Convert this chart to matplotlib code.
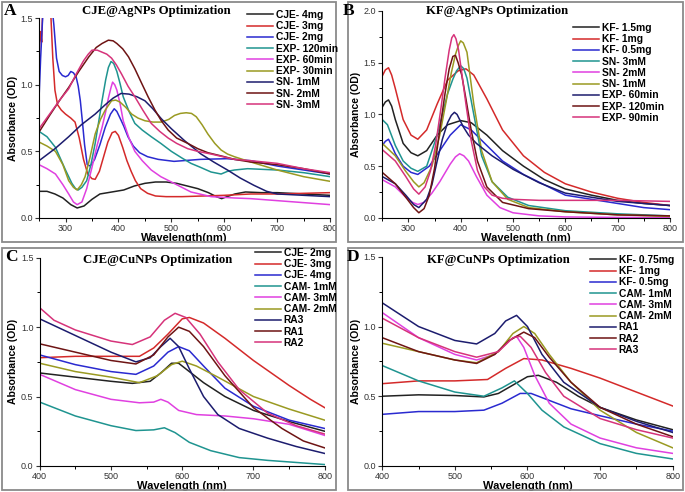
import matplotlib
matplotlib.use("Agg")
import matplotlib.pyplot as plt
from matplotlib.patches import Rectangle
from matplotlib.ticker import MultipleLocator, FormatStrFormatter

plt.rcParams["font.family"] = ["Liberation Sans", "DejaVu Sans"]

# Origin-like palette, same order in every panel
colors = ["#222222", "#d42a2a", "#2a2ad0", "#1f9490", "#e040e0",
          "#9a9a22", "#1c1c6e", "#6e1414", "#d6337a"]

# -----------------------------
# Panel A: CJE@AgNPs
# -----------------------------
a_labels = ["CJE- 4mg", "CJE- 3mg", "CJE- 2mg", "EXP- 120min", "EXP- 60min",
            "EXP- 30min", "SN- 1mM", "SN- 2mM", "SN- 3mM"]
a_x = [
    [250, 265, 280, 295, 310, 322, 335, 350, 365, 380, 395, 410, 430, 450, 470, 490, 510, 530, 550, 570, 585, 595, 605, 620, 640, 670, 700, 750, 800],
    [250, 251, 253, 255, 257, 260, 266, 272, 276, 280, 285, 292, 300, 310, 318, 326, 334, 342, 350, 356, 364, 372, 380, 388, 394, 400, 408, 416, 424, 432, 442, 455, 470, 490, 520, 560, 600, 650, 700, 750, 800],
    [250, 253, 258, 266, 274, 278, 283, 288, 294, 300, 305, 310, 315, 320, 324, 328, 332, 336, 341, 347, 355, 365, 375, 385, 392, 397, 403, 410, 418, 428, 440, 455, 475, 505, 555, 605, 650, 700, 750, 800],
    [250, 265, 281, 300, 312, 319, 324, 331, 340, 348, 356, 363, 369, 376, 381, 386, 391, 397, 403, 409, 420, 431, 445, 462, 480, 500, 520, 537, 555, 575, 594, 606, 619, 644, 700, 750, 800],
    [250, 265, 281, 295, 306, 315, 322, 331, 340, 350, 360, 369, 376, 381, 386, 389, 393, 397, 403, 409, 420, 431, 445, 462, 480, 500, 537, 575, 619, 650, 700, 750, 800],
    [250, 265, 281, 295, 306, 315, 322, 330, 337, 346, 356, 366, 375, 387, 395, 403, 414, 425, 437, 450, 465, 481, 495, 506, 517, 528, 538, 547, 558, 569, 582, 594, 606, 619, 650, 700, 750, 800],
    [250, 280, 306, 330, 356, 375, 390, 405, 420, 435, 450, 465, 481, 500, 525, 556, 580, 606, 630, 656, 680, 700, 750, 800],
    [250, 270, 290, 306, 325, 344, 358, 369, 381, 390, 397, 408, 419, 431, 444, 456, 469, 481, 494, 510, 531, 550, 569, 600, 619, 650, 700, 750, 800],
    [250, 270, 290, 306, 320, 334, 343, 350, 360, 369, 378, 387, 396, 406, 418, 431, 446, 462, 478, 494, 510, 531, 550, 575, 619, 650, 700, 750, 800],
]
a_y = [
    [0.20, 0.20, 0.18, 0.15, 0.10, 0.075, 0.09, 0.14, 0.18, 0.19, 0.20, 0.21, 0.24, 0.26, 0.27, 0.27, 0.26, 0.24, 0.22, 0.19, 0.16, 0.145, 0.16, 0.18, 0.195, 0.19, 0.19, 0.18, 0.17],
    [1.10, 1.30, 1.40, 1.32, 1.60, 1.70, 1.70, 1.55, 1.20, 0.96, 0.85, 0.81, 0.78, 0.75, 0.72, 0.60, 0.44, 0.33, 0.295, 0.29, 0.35, 0.46, 0.57, 0.64, 0.65, 0.62, 0.53, 0.43, 0.35, 0.28, 0.22, 0.185, 0.165, 0.16, 0.16, 0.165, 0.17, 0.18, 0.18, 0.185, 0.19],
    [0.90, 1.20, 1.60, 1.70, 1.60, 1.45, 1.20, 1.10, 1.07, 1.06, 1.07, 1.10, 1.09, 1.06, 0.99, 0.88, 0.72, 0.55, 0.40, 0.39, 0.44, 0.55, 0.68, 0.78, 0.82, 0.80, 0.75, 0.69, 0.61, 0.54, 0.49, 0.46, 0.44, 0.425, 0.44, 0.445, 0.43, 0.39, 0.36, 0.33],
    [0.65, 0.61, 0.53, 0.36, 0.26, 0.22, 0.21, 0.23, 0.28, 0.40, 0.56, 0.73, 0.88, 1.04, 1.13, 1.175, 1.16, 1.10, 1.01, 0.91, 0.80, 0.71, 0.66, 0.61, 0.56, 0.50, 0.45, 0.41, 0.38, 0.345, 0.33, 0.35, 0.36, 0.37, 0.36, 0.34, 0.31],
    [0.40, 0.37, 0.33, 0.25, 0.18, 0.12, 0.10, 0.12, 0.22, 0.38, 0.55, 0.68, 0.80, 0.90, 0.98, 1.02, 1.00, 0.96, 0.86, 0.73, 0.60, 0.50, 0.43, 0.36, 0.31, 0.27, 0.195, 0.16, 0.15, 0.145, 0.13, 0.115, 0.10],
    [0.57, 0.54, 0.50, 0.40, 0.28, 0.23, 0.21, 0.25, 0.31, 0.45, 0.63, 0.74, 0.81, 0.88, 0.885, 0.87, 0.83, 0.78, 0.75, 0.73, 0.72, 0.72, 0.74, 0.77, 0.785, 0.79, 0.785, 0.76, 0.70, 0.63, 0.56, 0.51, 0.48, 0.46, 0.42, 0.36, 0.31, 0.275],
    [0.43, 0.52, 0.61, 0.70, 0.78, 0.85, 0.90, 0.935, 0.93, 0.91, 0.88, 0.82, 0.745, 0.67, 0.58, 0.48, 0.42, 0.36, 0.30, 0.245, 0.20, 0.18, 0.17, 0.16],
    [0.645, 0.77, 0.89, 0.98, 1.10, 1.21, 1.28, 1.31, 1.335, 1.33, 1.31, 1.27, 1.21, 1.12, 1.01, 0.91, 0.81, 0.73, 0.66, 0.60, 0.56, 0.52, 0.49, 0.46, 0.44, 0.42, 0.40, 0.37, 0.33],
    [0.67, 0.78, 0.89, 0.97, 1.08, 1.18, 1.23, 1.26, 1.26, 1.245, 1.23, 1.20, 1.15, 1.08, 0.99, 0.91, 0.81, 0.71, 0.65, 0.60, 0.56, 0.52, 0.50, 0.48, 0.44, 0.43, 0.41, 0.37, 0.34],
]

# -----------------------------
# Panel B: KF@AgNPs
# -----------------------------
b_labels = ["KF- 1.5mg", "KF- 1mg", "KF- 0.5mg", "SN- 3mM", "SN- 2mM",
            "SN- 1mM", "EXP- 60min", "EXP- 120min", "EXP- 90min"]
b_x = [
    [250, 256, 262, 268, 275, 290, 305, 318, 335, 355, 375, 400, 420, 450, 480, 520, 560, 600, 650, 700, 750, 800],
    [250, 256, 262, 268, 275, 290, 305, 318, 335, 355, 375, 395, 410, 425, 450, 480, 520, 560, 600, 650, 700, 750, 800],
    [250, 256, 262, 268, 275, 290, 305, 318, 340, 360, 380, 400, 420, 450, 480, 520, 560, 600, 650, 700, 750, 800],
    [250, 260, 275, 290, 305, 318, 335, 355, 375, 385, 392, 400, 406, 412, 425, 440, 460, 490, 530, 600, 700, 800],
    [250, 275, 295, 308, 318, 330, 345, 360, 380, 390, 398, 406, 415, 430, 450, 475, 500, 550, 600, 700, 800],
    [250, 275, 295, 310, 320, 330, 345, 360, 372, 382, 390, 396, 400, 405, 412, 425, 440, 460, 490, 530, 600, 700, 800],
    [250, 275, 295, 310, 320, 335, 345, 355, 365, 375, 382, 388, 393, 398, 405, 415, 430, 460, 500, 550, 600, 650, 700, 750, 800],
    [250, 275, 295, 310, 320, 330, 340, 350, 360, 370, 378, 385, 390, 395, 402, 410, 420, 432, 450, 480, 530, 600, 700, 800],
    [250, 275, 295, 310, 320, 332, 342, 352, 362, 370, 378, 383, 387, 391, 396, 402, 410, 420, 432, 445, 460, 480, 500, 550, 600, 700, 800],
]
b_y = [
    [1.07, 1.12, 1.14, 1.08, 0.95, 0.72, 0.63, 0.60, 0.65, 0.80, 0.90, 0.94, 0.92, 0.80, 0.65, 0.50, 0.37, 0.28, 0.22, 0.17, 0.14, 0.12],
    [1.37, 1.43, 1.45, 1.38, 1.25, 0.95, 0.80, 0.76, 0.85, 1.10, 1.33, 1.42, 1.44, 1.38, 1.15, 0.85, 0.60, 0.44, 0.33, 0.25, 0.19, 0.15, 0.12],
    [0.70, 0.74, 0.76, 0.70, 0.62, 0.50, 0.44, 0.42, 0.50, 0.65, 0.80, 0.90, 0.85, 0.70, 0.55, 0.42, 0.32, 0.22, 0.18, 0.14, 0.10, 0.08],
    [0.95, 0.90, 0.70, 0.55, 0.48, 0.45, 0.50, 0.80, 1.20, 1.34, 1.42, 1.47, 1.44, 1.35, 1.00, 0.60, 0.35, 0.20, 0.12, 0.07, 0.04, 0.02],
    [0.37, 0.30, 0.20, 0.15, 0.13, 0.15, 0.24, 0.35, 0.52, 0.59, 0.62, 0.60, 0.55, 0.40, 0.22, 0.10, 0.05, 0.02, 0.01, 0.005, 0.005],
    [0.72, 0.60, 0.45, 0.35, 0.30, 0.34, 0.50, 0.80, 1.12, 1.40, 1.58, 1.67, 1.71, 1.69, 1.60, 1.10, 0.65, 0.35, 0.18, 0.10, 0.06, 0.03, 0.015],
    [0.40, 0.33, 0.22, 0.13, 0.10, 0.18, 0.32, 0.55, 0.76, 0.92, 0.99, 1.02, 1.00, 0.95, 0.88, 0.80, 0.72, 0.60, 0.47, 0.34, 0.24, 0.20, 0.16, 0.14, 0.12],
    [0.44, 0.33, 0.20, 0.10, 0.05, 0.09, 0.22, 0.48, 0.85, 1.20, 1.44, 1.56, 1.57, 1.50, 1.38, 1.15, 0.85, 0.55, 0.30, 0.15, 0.09, 0.06, 0.03, 0.02],
    [0.66, 0.55, 0.40, 0.28, 0.23, 0.30, 0.45, 0.70, 1.05, 1.35, 1.62, 1.74, 1.77, 1.73, 1.62, 1.40, 1.10, 0.75, 0.46, 0.30, 0.22, 0.19, 0.18, 0.17, 0.17, 0.17, 0.16],
]

# -----------------------------
# Panel C: CJE@CuNPs
# -----------------------------
c_labels = ["CJE- 2mg", "CJE- 3mg", "CJE- 4mg", "CAM- 1mM", "CAM- 3mM",
            "CAM- 2mM", "RA3", "RA1", "RA2"]
c_x = [
    [400, 450, 500, 530, 555, 570, 585, 595, 610, 630, 660, 700, 750, 800],
    [400, 450, 500, 540, 560, 580, 600, 610, 630, 660, 700, 750, 780, 800],
    [400, 450, 500, 535, 560, 580, 595, 610, 630, 660, 700, 750, 800],
    [400, 450, 500, 535, 560, 575, 590, 610, 640, 680, 720, 760, 800],
    [400, 450, 500, 540, 560, 570, 580, 595, 620, 660, 700, 750, 800],
    [400, 450, 500, 540, 565, 585, 600, 620, 650, 700, 750, 800],
    [400, 450, 500, 535, 555, 570, 583, 595, 610, 630, 650, 680, 720, 760, 800],
    [400, 450, 500, 535, 560, 580, 595, 610, 630, 660, 700, 740, 770, 800],
    [400, 420, 450, 500, 530, 555, 575, 590, 605, 625, 650, 680, 720, 760, 800],
]
c_y = [
    [0.67, 0.64, 0.61, 0.595, 0.61, 0.67, 0.74, 0.74, 0.68, 0.60, 0.50, 0.40, 0.32, 0.25],
    [0.78, 0.79, 0.79, 0.79, 0.85, 0.95, 1.06, 1.07, 1.03, 0.92, 0.76, 0.58, 0.48, 0.42],
    [0.80, 0.73, 0.68, 0.66, 0.72, 0.82, 0.86, 0.83, 0.72, 0.56, 0.43, 0.33, 0.27],
    [0.46, 0.36, 0.29, 0.255, 0.26, 0.275, 0.24, 0.17, 0.11, 0.06, 0.04, 0.025, 0.01],
    [0.66, 0.55, 0.48, 0.455, 0.46, 0.48, 0.46, 0.40, 0.37, 0.36, 0.34, 0.30, 0.22],
    [0.74, 0.68, 0.64, 0.60, 0.65, 0.73, 0.755, 0.72, 0.64, 0.50, 0.41, 0.33],
    [1.06, 0.94, 0.82, 0.75, 0.78, 0.86, 0.92, 0.86, 0.70, 0.50, 0.37, 0.27, 0.20, 0.14, 0.09],
    [0.88, 0.82, 0.76, 0.735, 0.80, 0.93, 1.00, 0.97, 0.86, 0.65, 0.42, 0.27, 0.18, 0.13],
    [1.14, 1.05, 0.98, 0.90, 0.875, 0.93, 1.05, 1.10, 1.07, 0.95, 0.75, 0.55, 0.38, 0.29, 0.23],
]

# -----------------------------
# Panel D: KF@CuNPs
# -----------------------------
d_labels = ["KF- 0.75mg", "KF- 1mg", "KF- 0.5mg", "CAM- 1mM", "CAM- 3mM",
            "CAM- 2mM", "RA1", "RA2", "RA3"]
d_x = [
    [400, 450, 500, 540, 560, 580, 600, 615, 640, 670, 700, 750, 800],
    [400, 450, 500, 545, 570, 595, 620, 660, 700, 750, 800],
    [400, 450, 500, 540, 565, 590, 605, 630, 660, 700, 750, 800],
    [400, 450, 500, 540, 565, 582, 600, 620, 650, 700, 750, 800],
    [400, 450, 500, 530, 555, 575, 585, 595, 610, 630, 660, 700, 750, 800],
    [400, 450, 500, 530, 560, 580, 595, 610, 630, 660, 700, 750, 800],
    [400, 450, 500, 530, 555, 570, 585, 600, 620, 650, 700, 750, 800],
    [400, 450, 500, 530, 555, 575, 595, 610, 630, 660, 700, 750, 800],
    [400, 450, 500, 530, 560, 580, 590, 605, 625, 650, 700, 750, 800],
]
d_y = [
    [0.50, 0.51, 0.505, 0.495, 0.52, 0.58, 0.64, 0.65, 0.60, 0.50, 0.42, 0.33, 0.26],
    [0.59, 0.61, 0.61, 0.62, 0.70, 0.77, 0.76, 0.70, 0.63, 0.53, 0.43],
    [0.37, 0.39, 0.39, 0.40, 0.45, 0.52, 0.52, 0.47, 0.41, 0.36, 0.30, 0.25],
    [0.72, 0.61, 0.53, 0.50, 0.56, 0.61, 0.52, 0.40, 0.28, 0.16, 0.09, 0.05],
    [1.10, 0.92, 0.80, 0.76, 0.80, 0.90, 0.93, 0.85, 0.65, 0.45, 0.30, 0.20, 0.13, 0.09],
    [0.88, 0.82, 0.76, 0.74, 0.82, 0.95, 1.00, 0.95, 0.80, 0.60, 0.40, 0.24, 0.13],
    [1.17, 1.00, 0.90, 0.875, 0.95, 1.04, 1.08, 1.00, 0.80, 0.60, 0.42, 0.32, 0.24],
    [0.92, 0.82, 0.76, 0.735, 0.80, 0.90, 0.96, 0.92, 0.78, 0.60, 0.42, 0.30, 0.21],
    [1.06, 0.92, 0.82, 0.78, 0.82, 0.92, 0.93, 0.85, 0.67, 0.50, 0.34, 0.26, 0.20],
]

panels = [
    ("A", "CJE@AgNPs Optimization", "Wavelength(nm)", a_labels, a_x, a_y,
     [0.057, 0.557, 0.425, 0.406], (250, 800), 1.5, 300, (247, 10)),
    ("B", "KF@AgNPs Optimization", "Wavelength (nm)", b_labels, b_x, b_y,
     [0.558, 0.557, 0.420, 0.421], (250, 800), 2.0, 300, (573, 23)),
    ("C", "CJE@CuNPs Optimization", "Wavelength (nm)", c_labels, c_x, c_y,
     [0.058, 0.053, 0.416, 0.423], (400, 800), 1.5, 400, (255, 248)),
    ("D", "KF@CuNPs Optimization", "Wavelength (nm)", d_labels, d_x, d_y,
     [0.558, 0.053, 0.424, 0.425], (400, 800), 1.5, 400, (590, 255)),
]
boxes = [(2, 2, 336, 242), (348, 2, 683, 242), (2, 248, 336, 490), (348, 248, 683, 490)]
letter_pos = [(4, 3), (343, 3), (5, 249), (347, 249)]
title_pos = [(156, 11), (497, 11), (158, 260), (498, 260)]

W, H = 685, 492
fig = plt.figure(figsize=(6.85, 4.92), dpi=100)

for (x0, y0, x1, y1) in boxes:
    fig.add_artist(Rectangle((x0 / W, 1 - y1 / H), (x1 - x0) / W, (y1 - y0) / H,
                             transform=fig.transFigure, fill=False,
                             edgecolor="#8a8a8a", linewidth=1.3))

for i, (letter, title, xlab, labels, xs, ys, pos, xlim, ytop, xfirst, lpos) in enumerate(panels):
    ax = fig.add_axes(pos)
    for k in range(len(labels)):
        ax.plot(xs[k], ys[k], color=colors[k], lw=1.1, label=labels[k])
    ax.set_xlim(*xlim)
    ax.set_ylim(0, ytop)
    ax.spines["top"].set_visible(False)
    ax.spines["right"].set_visible(False)
    ax.set_xticks(range(xfirst, 801, 100))
    ax.xaxis.set_minor_locator(MultipleLocator(50))
    ax.yaxis.set_major_locator(MultipleLocator(0.5))
    ax.yaxis.set_minor_locator(MultipleLocator(0.25))
    ax.yaxis.set_major_formatter(FormatStrFormatter("%.1f"))
    ax.tick_params(which="major", direction="out", length=3, width=0.8,
                   labelsize=6.5, pad=1.5, colors="#333333")
    ax.tick_params(which="minor", direction="out", length=2, width=0.7)
    ax.set_xlabel(xlab, fontsize=8, fontweight="bold", labelpad=0)
    ax.set_ylabel("Absorbance (OD)", fontsize=7.5, fontweight="bold", labelpad=2)

    lx, ly = lpos
    fig.legend(loc="upper left", bbox_to_anchor=(lx / W, 1 - ly / H),
               frameon=False, prop={"size": 7.4, "weight": "bold"},
               handlelength=2.5, handletextpad=0.3, labelspacing=0.12,
               borderpad=0, borderaxespad=0,
               handles=ax.get_lines())

    tx, ty = title_pos[i]
    fig.text(tx / W, 1 - ty / H, title, ha="center", va="center",
             fontsize=9.2, fontweight="bold", family=["Liberation Serif", "DejaVu Serif"])
    px, py = letter_pos[i]
    fig.text(px / W, 1 - py / H, letter, ha="left", va="top",
             fontsize=12.5, fontweight="bold", family=["Liberation Serif", "DejaVu Serif"])

fig.savefig("out.png", dpi=100)
